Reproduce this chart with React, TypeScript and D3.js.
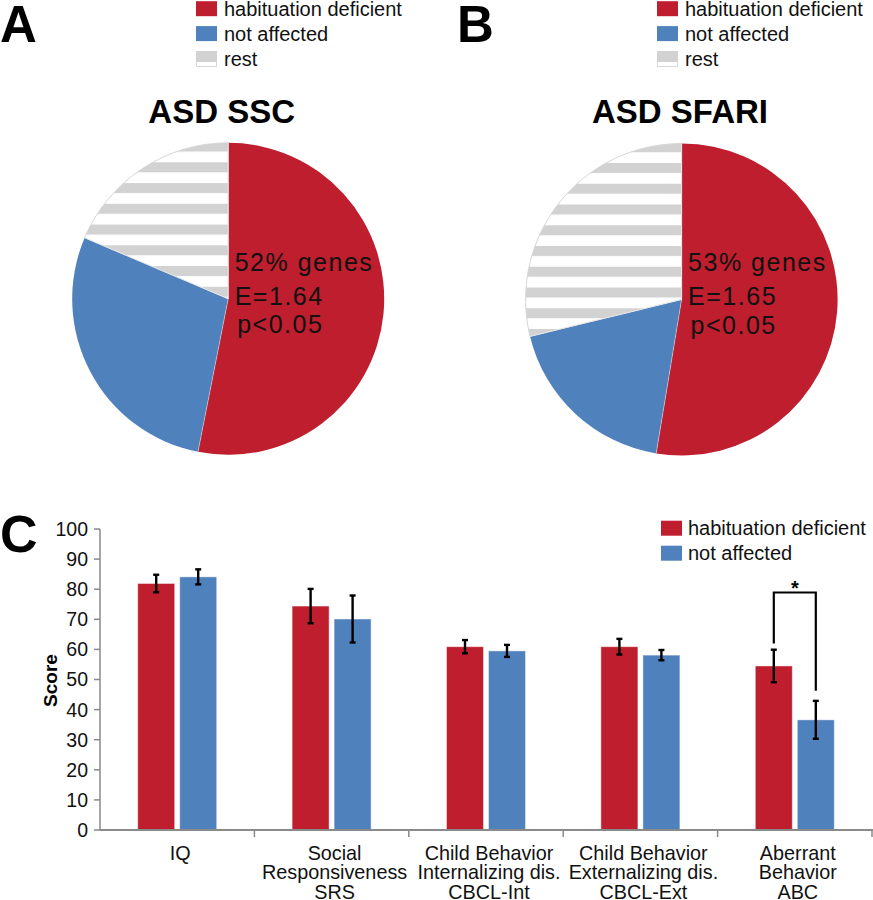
import React from "react";
import * as d3 from "d3";

// ---------- DATA ----------
const pieLabels = ["habituation deficient", "not affected", "rest"];
const pieTitles = ["ASD SSC", "ASD SFARI"];
const panelLetters = ["A", "B"];
const pieSSC = [53.1, 28.3, 18.6];
const pieSFARI = [52.6, 18.6, 28.8];
const noteSSC = ["52% genes", "E=1.64", "p<0.05"];
const noteSFARI = ["53% genes", "E=1.65", "p<0.05"];

const barSeries = ["habituation deficient", "not affected"];
const categories = [
  ["IQ"],
  ["Social", "Responsiveness", "SRS"],
  ["Child Behavior", "Internalizing dis.", "CBCL-Int"],
  ["Child Behavior", "Externalizing dis.", "CBCL-Ext"],
  ["Aberrant", "Behavior", "ABC"],
];
const hdValues = [81.9, 74.4, 60.9, 60.9, 54.5];
const hdErrors = [2.9, 5.7, 2.2, 2.6, 5.4];
const naValues = [84.1, 70.1, 59.5, 58.1, 36.6];
const naErrors = [2.5, 7.8, 2.0, 1.7, 6.3];
const yTicks = [0, 10, 20, 30, 40, 50, 60, 70, 80, 90, 100];
const bracketTop = 78.9;
const bracketLeftEnd = 62;
const bracketRightEnd = 46.3;

// ---------- STYLE ----------
const RED = "#be1e2d";
const BLUE = "#4f81bd";
const GRAY = "#d2d2d2";
const FONT = "'Liberation Sans', Arial, Helvetica, sans-serif";

function Pie({ cx, cy, r, values, note, title, letter, letterX, legendX, titleX }) {
  const arcs = d3.pie<number>().sort(null).startAngle(0).endAngle(2 * Math.PI)(values);
  const arc = d3.arc<any>().innerRadius(0).outerRadius(r);
  const fills = [RED, BLUE, "url(#stripes)"];
  return (
    <g>
      <text x={letterX} y={42} fontFamily={FONT} fontWeight="bold" fontSize={51}>
        {letter}
      </text>
      {pieLabels.map((lab, i) => (
        <g key={lab} transform={`translate(${legendX},${1.2 + i * 24.9})`}>
          {i < 2 ? (
            <rect x={0} y={0} width={21} height={15} fill={i === 0 ? RED : BLUE} />
          ) : (
            <g>
              <rect x={0.5} y={0.5} width={20} height={15} fill="#fff" stroke="#d8d8d8" />
              <rect x={0} y={0} width={21} height={11} fill={GRAY} />
            </g>
          )}
          <text x={28} y={14.5} fontFamily={FONT} fontSize={20} fill="#111">
            {lab}
          </text>
        </g>
      ))}
      <text x={titleX} y={123} textAnchor="middle" fontFamily={FONT} fontWeight="bold" fontSize={33}>
        {title}
      </text>
      <g transform={`translate(${cx},${cy})`}>
        {arcs.map((a, i) => (
          <path
            key={i}
            d={arc(a) as string}
            fill={fills[i]}
            stroke={i === 2 ? "#d6d6d6" : "none"}
            strokeWidth={1}
          />
        ))}
        {arcs.map((a, i) => {
          const ang = a.startAngle;
          return (
            <line
              key={"s" + i}
              x1={0}
              y1={0}
              x2={r * Math.sin(ang)}
              y2={-r * Math.cos(ang)}
              stroke="#ffffff"
              strokeOpacity={0.5}
              strokeWidth={0.8}
            />
          );
        })}
        {note.map((t, i) => (
          <text
            key={t}
            x={i === 2 ? 9 : 6.5}
            y={[-28.3, 5.7, 34.5][i]}
            fontFamily={FONT}
            fontSize={25}
            letterSpacing={1.5}
            fill="#111"
          >
            {t}
          </text>
        ))}
      </g>
    </g>
  );
}

function Bars() {
  const left = 100;
  const right = 872;
  const y0 = 830;
  const y100 = 529;
  const x = d3.scaleBand<number>().domain(categories.map((_, i) => i)).range([left, right]);
  const y = d3.scaleLinear().domain([0, 100]).range([y0, y100]);
  const bw = 37;
  const gap = 5;
  const axisColor = "#8a8a8a";
  const groups = [
    { vals: hdValues, errs: hdErrors, color: RED, off: -gap / 2 - bw },
    { vals: naValues, errs: naErrors, color: BLUE, off: gap / 2 },
  ];
  const lastC = x(4)! + x.bandwidth() / 2;
  const bxL = lastC + groups[0].off + bw / 2;
  const bxR = lastC + groups[1].off + bw / 2;
  return (
    <g>
      <text x={0} y={552} fontFamily={FONT} fontWeight="bold" fontSize={52}>
        C
      </text>
      {/* y axis */}
      <line x1={left} x2={left} y1={y0} y2={y(100)} stroke={axisColor} strokeWidth={1.5} />
      {yTicks.map((t) => (
        <g key={t}>
          <line x1={left - 6} x2={left} y1={y(t)} y2={y(t)} stroke={axisColor} strokeWidth={1.5} />
          <text
            x={88}
            y={y(t) + 6.9}
            textAnchor="end"
            fontFamily={FONT}
            fontSize={19.5}
            fill="#111"
          >
            {t}
          </text>
        </g>
      ))}
      <text
        transform={`translate(56.5,680.5) rotate(-90)`}
        textAnchor="middle"
        fontFamily={FONT}
        fontWeight="bold"
        fontSize={19}
      >
        Score
      </text>
      {/* bars */}
      {groups.map((g, gi) =>
        g.vals.map((v, i) => {
          const cx = x(i)! + x.bandwidth() / 2 + g.off;
          return (
            <rect
              key={gi + "-" + i}
              x={cx}
              y={y(v)}
              width={bw}
              height={y(0) - y(v)}
              fill={g.color}
              stroke="#ffffff"
              strokeOpacity={0.45}
              strokeWidth={1}
            />
          );
        })
      )}
      {/* error bars */}
      {groups.map((g, gi) =>
        g.vals.map((v, i) => {
          const mx = x(i)! + x.bandwidth() / 2 + g.off + bw / 2;
          const top = y(v + g.errs[i]);
          const bot = y(v - g.errs[i]);
          return (
            <g key={"e" + gi + "-" + i} stroke="#000" strokeWidth={2.4}>
              <line x1={mx} x2={mx} y1={top} y2={bot} />
              <line x1={mx - 3} x2={mx + 3} y1={top} y2={top} />
              <line x1={mx - 3} x2={mx + 3} y1={bot} y2={bot} />
            </g>
          );
        })
      )}
      {/* x axis */}
      <line x1={left} x2={right + 1} y1={y0} y2={y0} stroke={axisColor} strokeWidth={2} />
      {categories.map((_, i) => (
        <line
          key={"t" + i}
          x1={x(i)! + x.bandwidth()}
          x2={x(i)! + x.bandwidth()}
          y1={y0}
          y2={y0 + 7}
          stroke={axisColor}
          strokeWidth={1.5}
        />
      ))}
      {categories.map((lines, i) => (
        <text
          key={"l" + i}
          textAnchor="middle"
          fontFamily={FONT}
          fontSize={19.8}
          fill="#111"
        >
          {lines.map((ln, j) => (
            <tspan key={j} x={x(i)! + x.bandwidth() / 2 + 3} y={859.5 + j * 19.5}>
              {ln}
            </tspan>
          ))}
        </text>
      ))}
      {/* significance bracket */}
      <path
        d={`M${bxL},${y(bracketLeftEnd)}V${y(bracketTop)}H${bxR}V${y(bracketRightEnd)}`}
        fill="none"
        stroke="#000"
        strokeWidth={2.2}
      />
      <text
        x={(bxL + bxR) / 2}
        y={595}
        textAnchor="middle"
        fontFamily={FONT}
        fontWeight="bold"
        fontSize={20}
      >
        *
      </text>
      {/* legend */}
      {barSeries.map((s, i) => (
        <g key={s} transform={`translate(661,${520.7 + i * 25})`}>
          <rect x={0} y={0} width={21} height={15} fill={i === 0 ? RED : BLUE} />
          <text x={27} y={14} fontFamily={FONT} fontSize={20} fill="#111">
            {s}
          </text>
        </g>
      ))}
    </g>
  );
}

export default function App() {
  return (
    <svg
      width={873}
      height={900}
      viewBox="0 0 873 900"
      style={{ position: "absolute", left: 0, top: 0, background: "#fff" }}
    >
      <defs>
        <pattern id="stripes" patternUnits="userSpaceOnUse" x={0} y={154} width={20} height={20.75}>
          <rect x={0} y={0} width={20} height={20.75} fill="#fff" />
          <rect x={0} y={0} width={20} height={10} fill={GRAY} />
        </pattern>
      </defs>
      <rect x={0} y={0} width={873} height={900} fill="#fff" />
      <Pie
        cx={228.2}
        cy={298.8}
        r={156}
        values={pieSSC}
        note={noteSSC}
        title={pieTitles[0]}
        letter={panelLetters[0]}
        letterX={0}
        legendX={196}
        titleX={221.7}
      />
      <Pie
        cx={681.6}
        cy={299.5}
        r={156}
        values={pieSFARI}
        note={noteSFARI}
        title={pieTitles[1]}
        letter={panelLetters[1]}
        letterX={457}
        legendX={657}
        titleX={680}
      />
      <Bars />
    </svg>
  );
}
